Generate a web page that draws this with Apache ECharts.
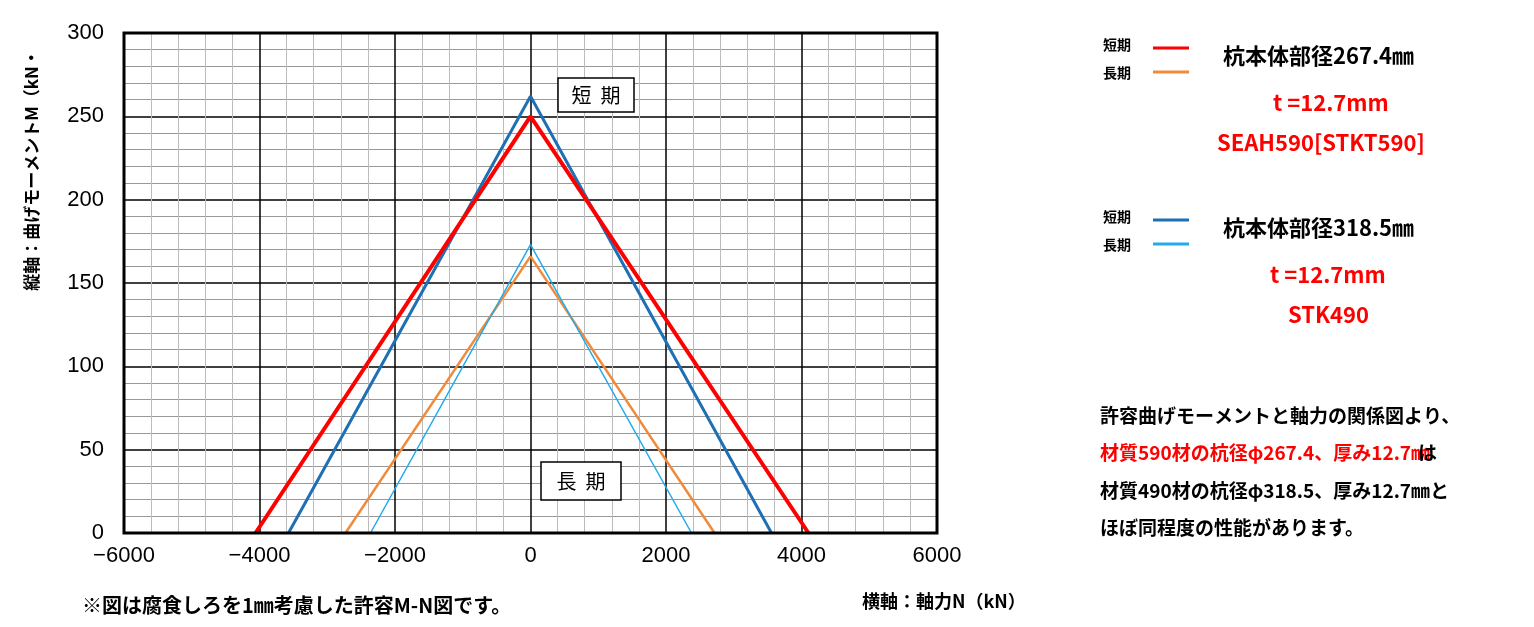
<!DOCTYPE html><html><head><meta charset="utf-8"><script src="https://cdn.jsdelivr.net/npm/echarts@6/dist/echarts.min.js"></script></head><body style="margin:0"><div id="c" style="width:1534px;height:627px"></div><script>
const redShort=[[-4059,0],[0,250],[4103,0]];
const blueShort=[[-3572,0],[0,262],[3557,0]];
const orangeLong=[[-2731,0],[0,166],[2716,0]];
const lightLong=[[-2362,0],[0,173],[2376,0]];
const F='"Noto Sans CJK JP"';
const ch=echarts.init(document.getElementById('c'));
function t(x,y,s,sz,col,w){return {type:'text',left:x,top:y,style:{text:s,font:(w||'bold')+' '+sz+'px '+F,fill:col||'#000'}};}
function ln(x,y,col){return {type:'line',shape:{x1:x,y1:y,x2:x+36,y2:y},style:{stroke:col,lineWidth:3}};}
ch.setOption({animation:false,
grid:{left:124,right:597,top:33,bottom:94},
xAxis:{type:'value',min:-6000,max:6000,interval:2000,axisLine:{show:false},axisTick:{show:false},
 axisLabel:{fontSize:22,color:'#000',fontFamily:'Arial',margin:12,formatter:v=>v<0?'−'+(-v):v},
 splitLine:{lineStyle:{color:'#000',width:1.5}},minorTick:{show:false,splitNumber:5},minorSplitLine:{show:true,lineStyle:{color:'#bbb',width:1}}},
yAxis:{type:'value',min:0,max:300,interval:50,axisLine:{show:false},axisTick:{show:false},
 axisLabel:{fontSize:22,color:'#000',fontFamily:'Arial',margin:20},
 splitLine:{lineStyle:{color:'#000',width:1.5}},minorTick:{show:false,splitNumber:5},minorSplitLine:{show:true,lineStyle:{color:'#999',width:1}}},
series:[
{type:'line',data:orangeLong,symbol:'none',lineStyle:{color:'#f08a3c',width:2.5}},
{type:'line',data:lightLong,symbol:'none',lineStyle:{color:'#22aaee',width:1.5}},
{type:'line',data:blueShort,symbol:'none',lineStyle:{color:'#1f6fb5',width:3}},
{type:'line',data:redShort,symbol:'none',lineStyle:{color:'#ff0000',width:4}}],
graphic:[
{type:'rect',shape:{x:124,y:33,width:813,height:500},style:{fill:'none',stroke:'#000',lineWidth:3},z:100},
{type:'rect',shape:{x:558,y:78,width:76,height:34},style:{fill:'#fff',stroke:'#000',lineWidth:1.5},z:100},
{type:'text',x:596,y:95,z:101,style:{text:'短  期',font:'20px '+F,fill:'#000',align:'center',verticalAlign:'middle'}},
{type:'rect',shape:{x:541,y:462,width:80,height:38},style:{fill:'#fff',stroke:'#000',lineWidth:1.5},z:100},
{type:'text',x:581,y:481,z:101,style:{text:'長  期',font:'20px '+F,fill:'#000',align:'center',verticalAlign:'middle'}},
{type:'text',x:32,y:170,rotation:Math.PI/2,style:{text:'縦軸：曲げモーメントM（kN・',font:'bold 17px '+F,fill:'#000',align:'center',verticalAlign:'middle'}},
t(862,592,'横軸：軸力N（kN）',18),
t(82,595,'※図は腐食しろを1㎜考慮した許容M-N図です。',20),
t(1103,38,'短期',14),t(1103,66,'長期',14),ln(1153,48,'#ff0000'),ln(1153,72,'#f08a3c'),
t(1223,45,'杭本体部径267.4㎜',22),t(1273,92,'t =12.7mm',22,'#ff0000'),t(1217,132,'SEAH590[STKT590]',22,'#ff0000'),
t(1103,210,'短期',14),t(1103,238,'長期',14),ln(1153,220,'#1f6fb5'),ln(1153,244,'#22aaee'),
t(1223,217,'杭本体部径318.5㎜',22),t(1270,264,'t =12.7mm',22,'#ff0000'),t(1288,304,'STK490',22,'#ff0000'),
t(1100,406,'許容曲げモーメントと軸力の関係図より、',19),
t(1100,443,'材質590材の杭径φ267.4、厚み12.7㎜',19,'#ff0000'),t(1418,443,'は',19),
t(1100,481,'材質490材の杭径φ318.5、厚み12.7㎜と',19),
t(1100,518,'ほぼ同程度の性能があります。',19)
]});
</script></body></html>
